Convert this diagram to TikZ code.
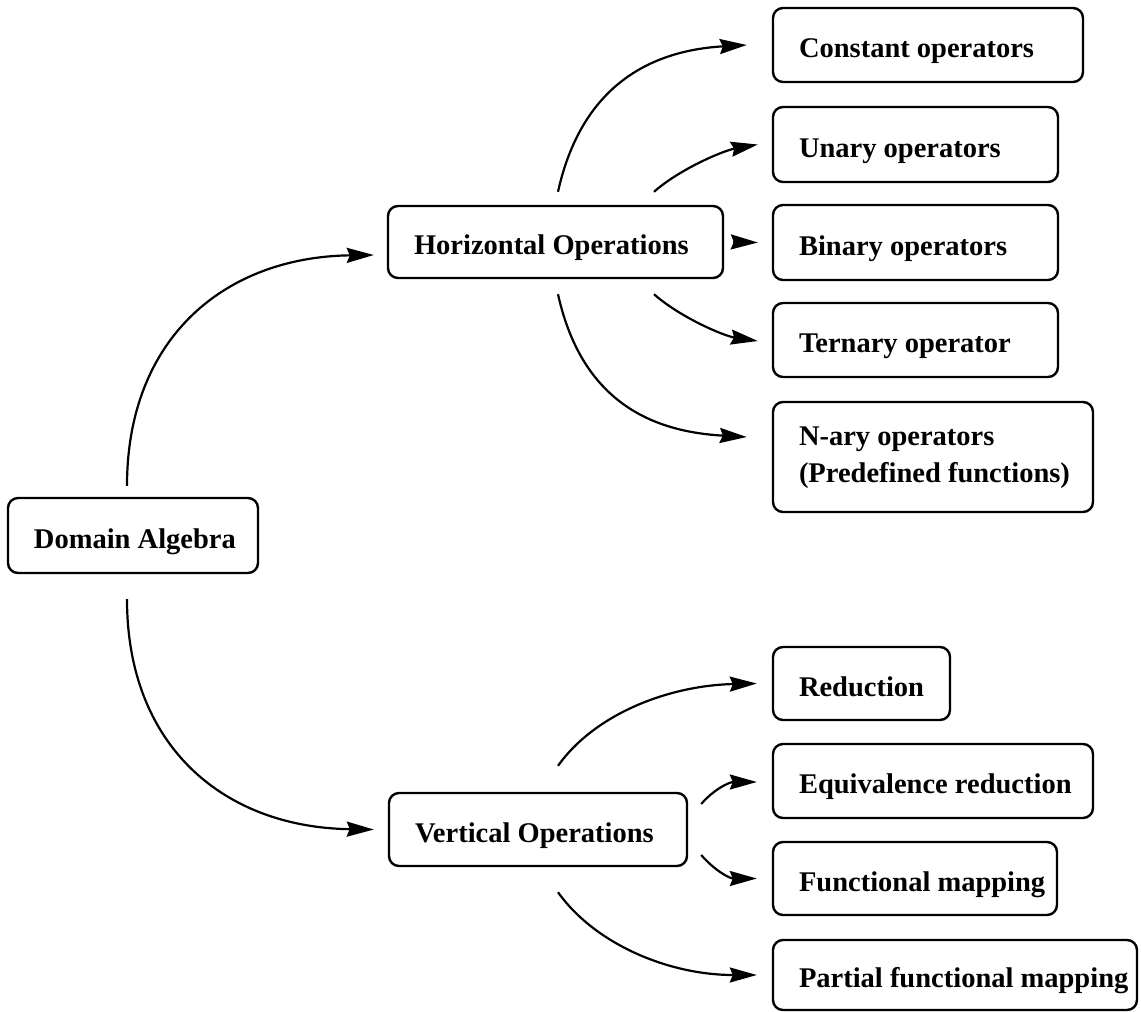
\documentclass[tikz,border=0pt]{standalone}
\usepackage{fontspec}
\setmainfont{Liberation Serif}
\usetikzlibrary{arrows.meta,calc}
\newcommand{\lbox}[2]{\makebox[#1][l]{\hspace{26pt}\rule[-7pt]{0pt}{39pt}#2}}
\begin{document}
\begin{tikzpicture}[x=1pt,y=-1pt,
  box/.style={draw, line width=2.4pt, rounded corners=10pt, inner sep=0pt,
    font=\fontsize{28.5}{37}\selectfont\bfseries},
  arr/.style={line width=2.2pt, -{Stealth[length=27pt,width=15pt,inset=3pt]}}]
\useasboundingbox (0,0) rectangle (1141,1012);

% main nodes
\node[box, minimum width=250pt, minimum height=75pt] (DA) at (133,535.5) {\lbox{250pt}{Domain Algebra}};
\node[box, minimum width=335pt, minimum height=72pt] (HO) at (555.5,242) {\lbox{335pt}{Horizontal Operations}};
\node[box, minimum width=298pt, minimum height=73pt] (VO) at (538,829.5) {\lbox{298pt}{Vertical Operations}};

% horizontal children
\node[box, minimum width=310pt, minimum height=74pt] (C1) at (928,45) {\lbox{310pt}{Constant operators}};
\node[box, minimum width=285pt, minimum height=75pt] (C2) at (915.5,144.5) {\lbox{285pt}{Unary operators}};
\node[box, minimum width=285pt, minimum height=75pt] (C3) at (915.5,242.5) {\lbox{285pt}{Binary operators}};
\node[box, minimum width=285pt, minimum height=74pt] (C4) at (915.5,340) {\lbox{285pt}{Ternary operator}};
\node[box, minimum width=320pt, minimum height=110pt] (C5) at (933,457) {\makebox[320pt][l]{\hspace{26pt}\begin{tabular}{@{}l@{}}N-ary operators\\(Predefined functions)\end{tabular}}};

% vertical children
\node[box, minimum width=177pt, minimum height=73pt] (R1) at (861.5,683.5) {\lbox{177pt}{Reduction}};
\node[box, minimum width=320pt, minimum height=74pt] (R2) at (933,781) {\lbox{320pt}{Equivalence reduction}};
\node[box, minimum width=284pt, minimum height=73pt] (R3) at (915,878.5) {\lbox{284pt}{Functional mapping}};
\node[box, minimum width=364pt, minimum height=70pt] (R4) at (955,975) {\lbox{364pt}{Partial functional mapping}};

% connector ends
\coordinate (sDAu) at ($(DA.north)+(-6,-11)$);
\coordinate (tHO)  at ($(HO.west)+(-13,13)$);
\coordinate (sDAd) at ($(DA.south)+(-6,25)$);
\coordinate (tVO)  at ($(VO.west)+(-14,0)$);

\coordinate (sH1) at ($(HO.north)+(2.5,-13)$);
\coordinate (sH2) at ($(HO.north)+(98.5,-13)$);
\coordinate (sH3) at ($(HO.east)+(9,0)$);
\coordinate (sH4) at ($(HO.south)+(98.5,15)$);
\coordinate (sH5) at ($(HO.south)+(2.5,15)$);
\coordinate (tC1) at ($(C1.west)+(-25,0)$);
\coordinate (tC2) at ($(C2.west)+(-14,0)$);
\coordinate (tC3) at ($(C3.west)+(-14,0)$);
\coordinate (tC4) at ($(C4.west)+(-14,1)$);
\coordinate (tC5) at ($(C5.west)+(-25,-20)$);

\coordinate (sV1) at ($(VO.north)+(20,-26)$);
\coordinate (sV2) at ($(VO.east)+(13,-25.5)$);
\coordinate (sV3) at ($(VO.east)+(13,25.5)$);
\coordinate (sV4) at ($(VO.south)+(20,25)$);
\coordinate (tR1) at ($(R1.west)+(-15,0)$);
\coordinate (tR2) at ($(R2.west)+(-15,1)$);
\coordinate (tR3) at ($(R3.west)+(-15,0)$);
\coordinate (tR4) at ($(R4.west)+(-15,0)$);

% connectors
\draw[arr] (sDAu) .. controls +(0,-147) and +(-150,2) .. (tHO);
\draw[arr] (sDAd) .. controls +(0,147) and +(-150,-2) .. (tVO);

\draw[arr] (sH1) .. controls +(25,-113) and +(-88,5) .. (tC1);
\draw[arr] (sH2) .. controls +(26,-23) and +(-34,6) .. (tC2);
\draw[arr] (sH3) -- (tC3);
\draw[arr] (sH4) .. controls +(26,23) and +(-34,-5) .. (tC4);
\draw[arr] (sH5) .. controls +(25,113) and +(-88,-5) .. (tC5);

\draw[arr] (sV1) .. controls +(37,-52) and +(-88,2) .. (tR1);
\draw[arr] (sV2) .. controls +(12,-14) and +(-28,0) .. (tR2);
\draw[arr] (sV3) .. controls +(12,14) and +(-28,0) .. (tR3);
\draw[arr] (sV4) .. controls +(37,52) and +(-88,0) .. (tR4);
\end{tikzpicture}
\end{document}
